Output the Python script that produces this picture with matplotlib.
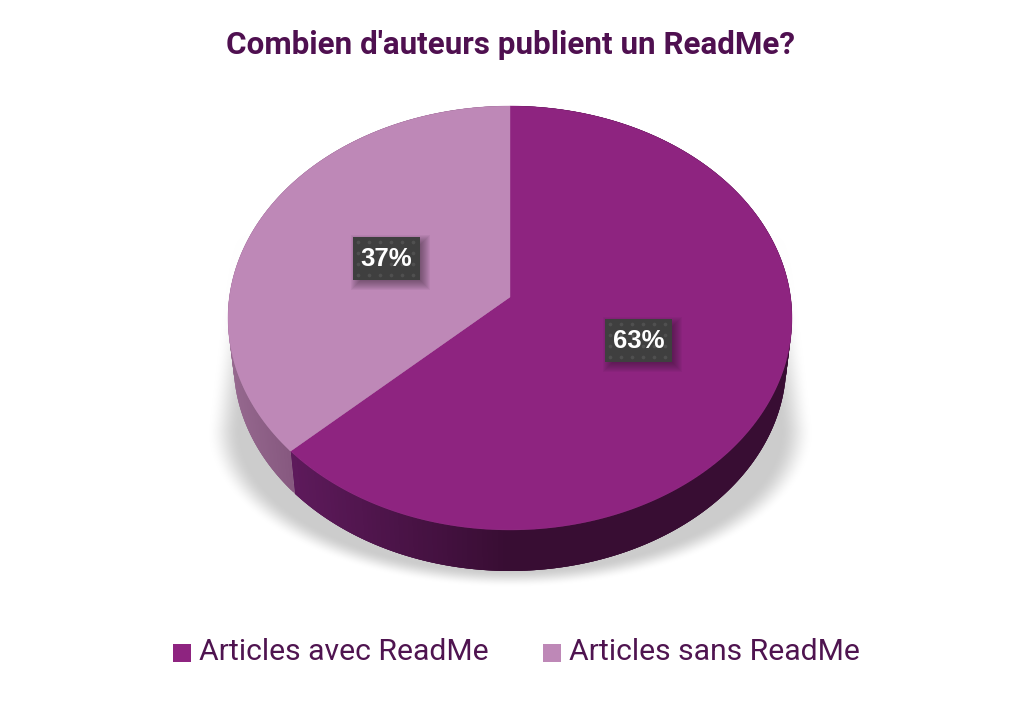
import numpy as np
import matplotlib
matplotlib.use("Agg")
import matplotlib.pyplot as plt
from matplotlib.colors import to_rgb
from matplotlib.patches import Polygon, Rectangle

titre = "Combien d'auteurs publient un ReadMe?"
categories = ["Articles avec ReadMe", "Articles sans ReadMe"]
valeurs = [63, 37]
couleurs = ["#8e2480", "#be88b7"]

# pie geometry, in pixels
CX, CY = 510, 297
A, B, K = 280.6, 209.9, 0.099


def projeter(r, ang):
    # ang clockwise from the top, slight perspective on the disc
    u = r * np.sin(ang)
    v = r * np.cos(ang)
    d = 1 + K * v
    return CX + A * u / d, CY - B * v / d


def bas(x, y):
    # lower rim of the pie, a bit narrower than the top
    return CX + (x - CX) * 0.98, CY + (y - CY) * 0.98 + 45.7


def lissage(t):
    t = np.clip(t, 0, 1)
    return t * t * (3 - 2 * t)


fig = plt.figure(figsize=(10.24, 7.05), dpi=100)
ax = fig.add_axes([0, 0, 1, 1])
ax.set_xlim(0, 1024)
ax.set_ylim(705, 0)
ax.axis("off")

# soft shadow below the pie
yy, xx = np.mgrid[0:705, 0:1024]
demi = 283 + (yy - 260) * 20 / 170
dist = np.where(yy > 430,
                np.sqrt(((xx - 510) / 303) ** 2 + ((yy - 430) / 157) ** 2),
                np.abs(xx - 510) / demi)
ombre = 1 - lissage((dist - 0.89) / 0.11)
ombre = ombre * lissage((yy - 225) / 170)
img = np.ones((705, 1024, 4))
img[..., :3] = 0.80
img[..., 3] = ombre
ax.imshow(img, extent=(0, 1024, 705, 0), aspect="auto", zorder=1)

# slices and their walls
fracs = np.cumsum([0] + valeurs) / sum(valeurs) * 2 * np.pi
for i, val in enumerate(valeurs):
    angs = np.linspace(fracs[i], fracs[i + 1], 240)
    x, y = projeter(1, angs)
    xb, yb = bas(x, y)

    # wall, cut in small strips for the shading (each overlaps the next one)
    for j in range(len(angs) - 1):
        k = min(j + 3, len(angs) - 1)
        if i == 0:
            t = np.clip((510 - x[j]) / 220, 0, 1)
            c0, c1 = np.array(to_rgb("#380d33")), np.array(to_rgb("#5e1a5c"))
        else:
            t = np.clip((x[j] - 228) / 66, 0, 1)
            c0, c1 = np.array(to_rgb("#96698f")), np.array(to_rgb("#86587f"))
        col = c0 + (c1 - c0) * t
        pts = [(x[j], y[j]), (x[k], y[k]), (xb[k], yb[k]), (xb[j], yb[j])]
        ax.add_patch(Polygon(pts, closed=True, fc=col, ec="none", zorder=2))

for i, val in enumerate(valeurs):
    angs = np.linspace(fracs[i], fracs[i + 1], 240)
    x, y = projeter(1, angs)
    pts = np.column_stack([np.r_[CX, x], np.r_[CY, y]])
    ax.add_patch(Polygon(pts, closed=True, fc=couleurs[i], ec=couleurs[i], lw=0.3, zorder=3))

    # percent label
    mid = (fracs[i] + fracs[i + 1]) / 2
    lx, ly = projeter(0.49, mid)
    ly += 2
    w, h = 67, 43
    for s in np.arange(6, -4, -1):
        ax.add_patch(Rectangle((lx - w / 2 + 4 - s, ly - h / 2 + 4 - s), w + 2 * s, h + 2 * s,
                               fc="#2c1a2a", ec="none", alpha=0.055, zorder=4))
    ax.add_patch(Rectangle((lx - w / 2, ly - h / 2), w, h, fc="#3f3f3f", ec="none", zorder=5))
    gx, gy = np.meshgrid(np.arange(lx - w / 2 + 5, lx + w / 2, 11), np.arange(ly - h / 2 + 5, ly + h / 2, 11))
    ax.scatter(gx.ravel(), gy.ravel(), s=7, marker="o", c="#505050", linewidths=0, zorder=6)
    ax.text(lx, ly, f"{val}%", color="white", fontsize=18.5, fontweight="bold", family="Liberation Sans",
            ha="center", va="center", zorder=7)

ax.text(510, 45, titre, color="#4f1050", fontsize=22.6, fontweight="bold", family="Roboto",
        ha="center", va="center", zorder=7)

# legend
leg_x = [173, 543]
for x0, nom, c in zip(leg_x, categories, couleurs):
    ax.add_patch(Rectangle((x0, 644), 18, 18, fc=c, ec="none", zorder=5))
    ax.text(x0 + 26, 652, nom, color="#4f1450", fontsize=21.7, family="Roboto", ha="left", va="center", zorder=7)

fig.savefig("out.png", dpi=100)
